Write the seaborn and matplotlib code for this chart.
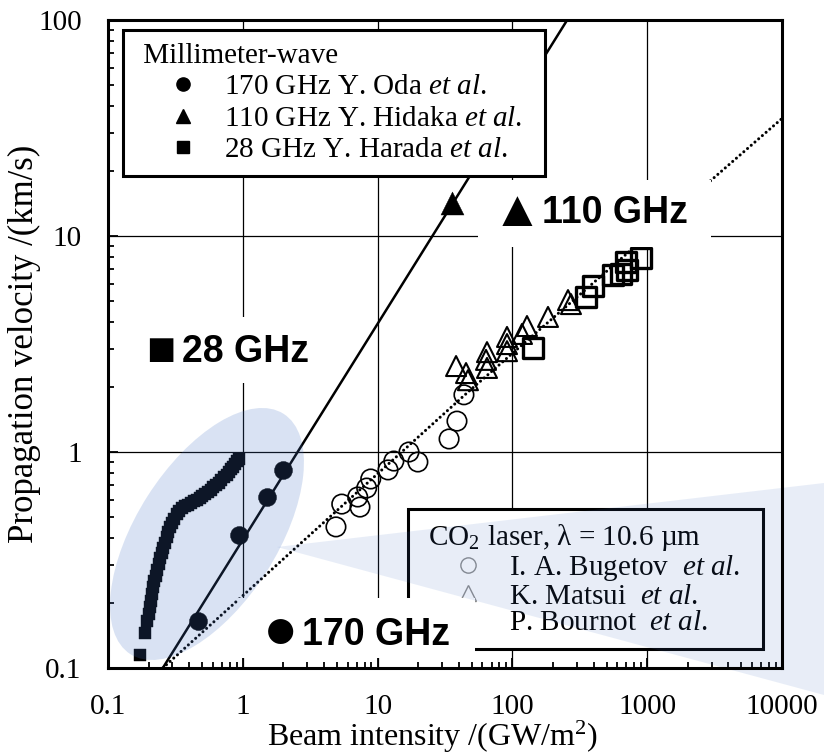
import numpy as np
import matplotlib
matplotlib.use("Agg")
import matplotlib.pyplot as plt
import seaborn as sns
from matplotlib.lines import Line2D
from matplotlib.patches import Ellipse, Polygon, Rectangle
from matplotlib.ticker import LogLocator, NullFormatter
from matplotlib.transforms import Affine2D

# --- Millimeter-wave data (beam intensity GW/m2, velocity km/s) ---
# 28 GHz, Y. Harada et al.
harada_I = [0.172, 0.188, 0.196, 0.200, 0.204, 0.208, 0.212, 0.216, 0.221, 0.226,
            0.231, 0.237, 0.243, 0.250, 0.257, 0.264, 0.272, 0.280, 0.289, 0.298,
            0.310, 0.323, 0.337, 0.352, 0.370, 0.390, 0.410, 0.432, 0.455, 0.478,
            0.500, 0.525, 0.550, 0.578, 0.605, 0.635, 0.665, 0.695, 0.725, 0.760,
            0.790, 0.820, 0.850, 0.880, 0.910, 0.940]
harada_v = [0.115, 0.145, 0.165, 0.178, 0.192, 0.205, 0.220, 0.236, 0.252, 0.268,
            0.285, 0.303, 0.322, 0.340, 0.360, 0.381, 0.405, 0.428, 0.450, 0.470,
            0.492, 0.515, 0.533, 0.548, 0.560, 0.571, 0.580, 0.590, 0.600, 0.612,
            0.627, 0.642, 0.655, 0.668, 0.685, 0.703, 0.722, 0.742, 0.765, 0.785,
            0.805, 0.830, 0.855, 0.880, 0.905, 0.930]
# 170 GHz, Y. Oda et al.
oda_I = [0.466, 0.937, 1.51, 1.99]
oda_v = [0.165, 0.413, 0.619, 0.826]
# 110 GHz, Y. Hidaka et al.
hidaka_I = [35.6]
hidaka_v = [14.2]

# --- CO2 laser data ---
bugetov_I = [4.91, 5.42, 7.40, 7.12, 8.30, 8.89, 11.95, 13.2, 17.1, 19.9, 33.9, 38.8, 43.7]
bugetov_v = [0.450, 0.574, 0.556, 0.619, 0.681, 0.750, 0.826, 0.908, 1.00, 0.899, 1.149, 1.39, 1.84]
matsui_I = [38.2, 45.3, 46.8, 64.8, 63.7, 64.8, 91.2, 91.2, 91.2, 117.8, 128.3, 183.7, 258.5, 272]
matsui_v = [2.50, 2.32, 2.15, 2.90, 2.67, 2.45, 3.41, 3.16, 2.93, 3.52, 3.83, 4.22, 5.05, 4.84]
bournot_I = [142, 352, 396, 557, 639, 708, 696, 899]
bournot_v = [3.03, 5.22, 5.87, 6.60, 6.67, 6.96, 7.58, 7.91]

# guide lines
mmw_line_I = [0.255, 255]
mmw_line_v = [0.1, 100]
co2_line_I = [0.255, 46, 10000]
co2_line_v = [0.1, 1.876, 35]

x_ticks = [0.1, 1, 10, 100, 1000, 10000]
x_tick_labels = ["0.1", "1", "10", "100", "1000", "10000"]
y_ticks = [0.1, 1, 10, 100]
y_tick_labels = ["0.1", "1", "10", "100"]

sns.set_theme(style="white")
plt.rcParams["font.family"] = ["Liberation Serif", "DejaVu Serif"]
plt.rcParams["mathtext.fontset"] = "custom"
plt.rcParams["mathtext.rm"] = "Liberation Serif"
plt.rcParams["mathtext.it"] = "Liberation Serif:italic"
plt.rcParams["font.size"] = 21
plt.rcParams["text.color"] = "black"
plt.rcParams["axes.labelcolor"] = "black"

fig = plt.figure(figsize=(8.24, 7.54), dpi=100)
fig.patch.set_facecolor("white")
ax = fig.add_axes([108 / 824, 1 - 668 / 754, 674 / 824, 648 / 754])
ax.set_xscale("log")
ax.set_yscale("log")


def scatter(x, y, marker, s, filled, lw):
    sns.scatterplot(x=x, y=y, marker=marker, s=s, color="black", ax=ax, zorder=3, legend=False)
    pts = ax.collections[-1]
    pts.set_facecolor("black" if filled else "none")
    pts.set_edgecolor("black")
    pts.set_linewidth(lw)


# lines
sns.lineplot(x=mmw_line_I, y=mmw_line_v, color="black", lw=1.8, ax=ax, zorder=2)
sns.lineplot(x=co2_line_I, y=co2_line_v, color="black", lw=2.2, ls=(0, (0.01, 1.6)),
             dash_capstyle="round", ax=ax, zorder=2)

# markers
scatter(harada_I, harada_v, "s", 66, True, 0.3)
scatter(oda_I, oda_v, "o", 169, True, 0.3)
scatter(hidaka_I, hidaka_v, "^", 274, True, 0.3)
scatter(bugetov_I, bugetov_v, "o", 196, False, 1.2)
scatter(matsui_I, matsui_v, "^", 207, False, 1.5)
scatter(bournot_I, bournot_v, "s", 207, False, 2.4)

ax.set_xlim(0.1, 10000)
ax.set_ylim(0.1, 100)
ax.set_xticks(x_ticks, labels=x_tick_labels)
ax.set_yticks(y_ticks, labels=y_tick_labels)
for axis in (ax.xaxis, ax.yaxis):
    axis.set_minor_locator(LogLocator(base=10, subs=np.arange(2, 10)))
    axis.set_minor_formatter(NullFormatter())
ax.tick_params(which="both", direction="in", bottom=True, left=True, top=False, right=False,
               colors="black", width=1.3)
ax.tick_params(which="major", length=7, pad=19, labelsize=21)
ax.tick_params(which="minor", length=4)
ax.grid(which="major", color="black", lw=0.9)
ax.grid(which="minor", visible=False)
ax.set_axisbelow(True)
for sp in ax.spines.values():
    sp.set_color("black")
    sp.set_linewidth(2.2)
    sp.set_zorder(10)

ax.set_xlabel("Beam intensity /(GW/m$^2$)", fontsize=23, va="baseline")
ax.set_ylabel("Propagation velocity /(km/s)", fontsize=25, va="baseline")
ax.xaxis.set_label_coords(0.482, -0.1204)
ax.yaxis.set_label_coords(-0.111, 0.5)

# legends
mm_handles = [Line2D([], [], ls="none", marker="o", ms=9.5, color="black"),
              Line2D([], [], ls="none", marker="^", ms=9.5, color="black"),
              Line2D([], [], ls="none", marker="s", ms=8, color="black")]
mm_labels = ["170 GHz Y. Oda $\\mathit{et\\ al}$.",
             "110 GHz Y. Hidaka $\\mathit{et\\ al}$.  ",
             "28 GHz Y. Harada $\\mathit{et\\ al}$."]
leg1 = ax.legend(mm_handles, mm_labels, title=" Millimeter-wave", loc="upper left",
                 bbox_to_anchor=(0.0223, 0.9846), borderaxespad=0, borderpad=0.45,
                 labelspacing=0.17, handlelength=3.2, handletextpad=-0.18, alignment="left",
                 frameon=True, fancybox=False, edgecolor="black", facecolor="white",
                 framealpha=1, fontsize=21, title_fontsize=21)
leg1.get_frame().set_linewidth(2.2)
ax.add_artist(leg1)

co2_handles = [Line2D([], [], ls="none", marker="o", ms=11, mfc="none", mec="#8c8c8c", mew=1),
               Line2D([], [], ls="none", marker="^", ms=11, mfc="none", mec="#8c8c8c", mew=1),
               Line2D([], [], ls="none", marker="s", ms=11, mfc="none", mec="none")]
co2_labels = ["I. A. Bugetov  $\\mathit{et\\ al}$.  ",
              "K. Matsui  $\\mathit{et\\ al}$.",
              "P. Bournot  $\\mathit{et\\ al}$."]
leg2 = ax.legend(co2_handles, co2_labels, title=" CO$_2$ laser, λ = 10.6 µm", loc="upper left",
                 bbox_to_anchor=(0.4451, 0.2454), borderaxespad=0, borderpad=0.45,
                 labelspacing=0.0, handlelength=3.2, handletextpad=-0.18, alignment="left",
                 frameon=True, fancybox=False, edgecolor="black", facecolor="white",
                 framealpha=1, fontsize=21, title_fontsize=21)
leg2.get_frame().set_linewidth(2.2)

# frequency labels on white boxes (pixel units inside the axes)
px_ax = Affine2D().scale(1 / 674, 1 / 648) + ax.transAxes
for x0, y0, w, h in [(370, 421, 233, 67), (17, 285, 197, 66), (130, 10, 237, 60)]:
    ax.add_patch(Rectangle((x0, y0), w, h, transform=px_ax, facecolor="white",
                           edgecolor="none", zorder=5.5))
sans = ["Liberation Sans", "DejaVu Sans"]
lab = dict(family=sans, weight="bold", size=27, ha="center", va="center",
           transform=px_ax, zorder=6)
ax.text(409.5, 456, "▲", **{**lab, "size": 37})
ax.text(507, 455, "110 GHz", **lab)
ax.text(52.5, 316, "■", **{**lab, "size": 35})
ax.text(138, 316, "28 GHz", **lab)
ax.text(172, 35, "●", **{**lab, "size": 42})
ax.text(268, 33, "170 GHz", **lab)

# translucent highlight shapes (pixel units)
ax.add_patch(Ellipse((99, 134), 285, 141, angle=57.5, transform=px_ax,
                     facecolor="#4472C4", alpha=0.2, lw=0, zorder=7))
px_fig = Affine2D().scale(1 / 824, 1 / 754) + fig.transFigure
ax.add_patch(Polygon([(277, 207), (824, 271), (824, 59)], closed=True, transform=px_fig,
                     facecolor="#4472C4", alpha=0.12, lw=0, zorder=7, clip_on=False))

fig.savefig("out.png", dpi=100)
